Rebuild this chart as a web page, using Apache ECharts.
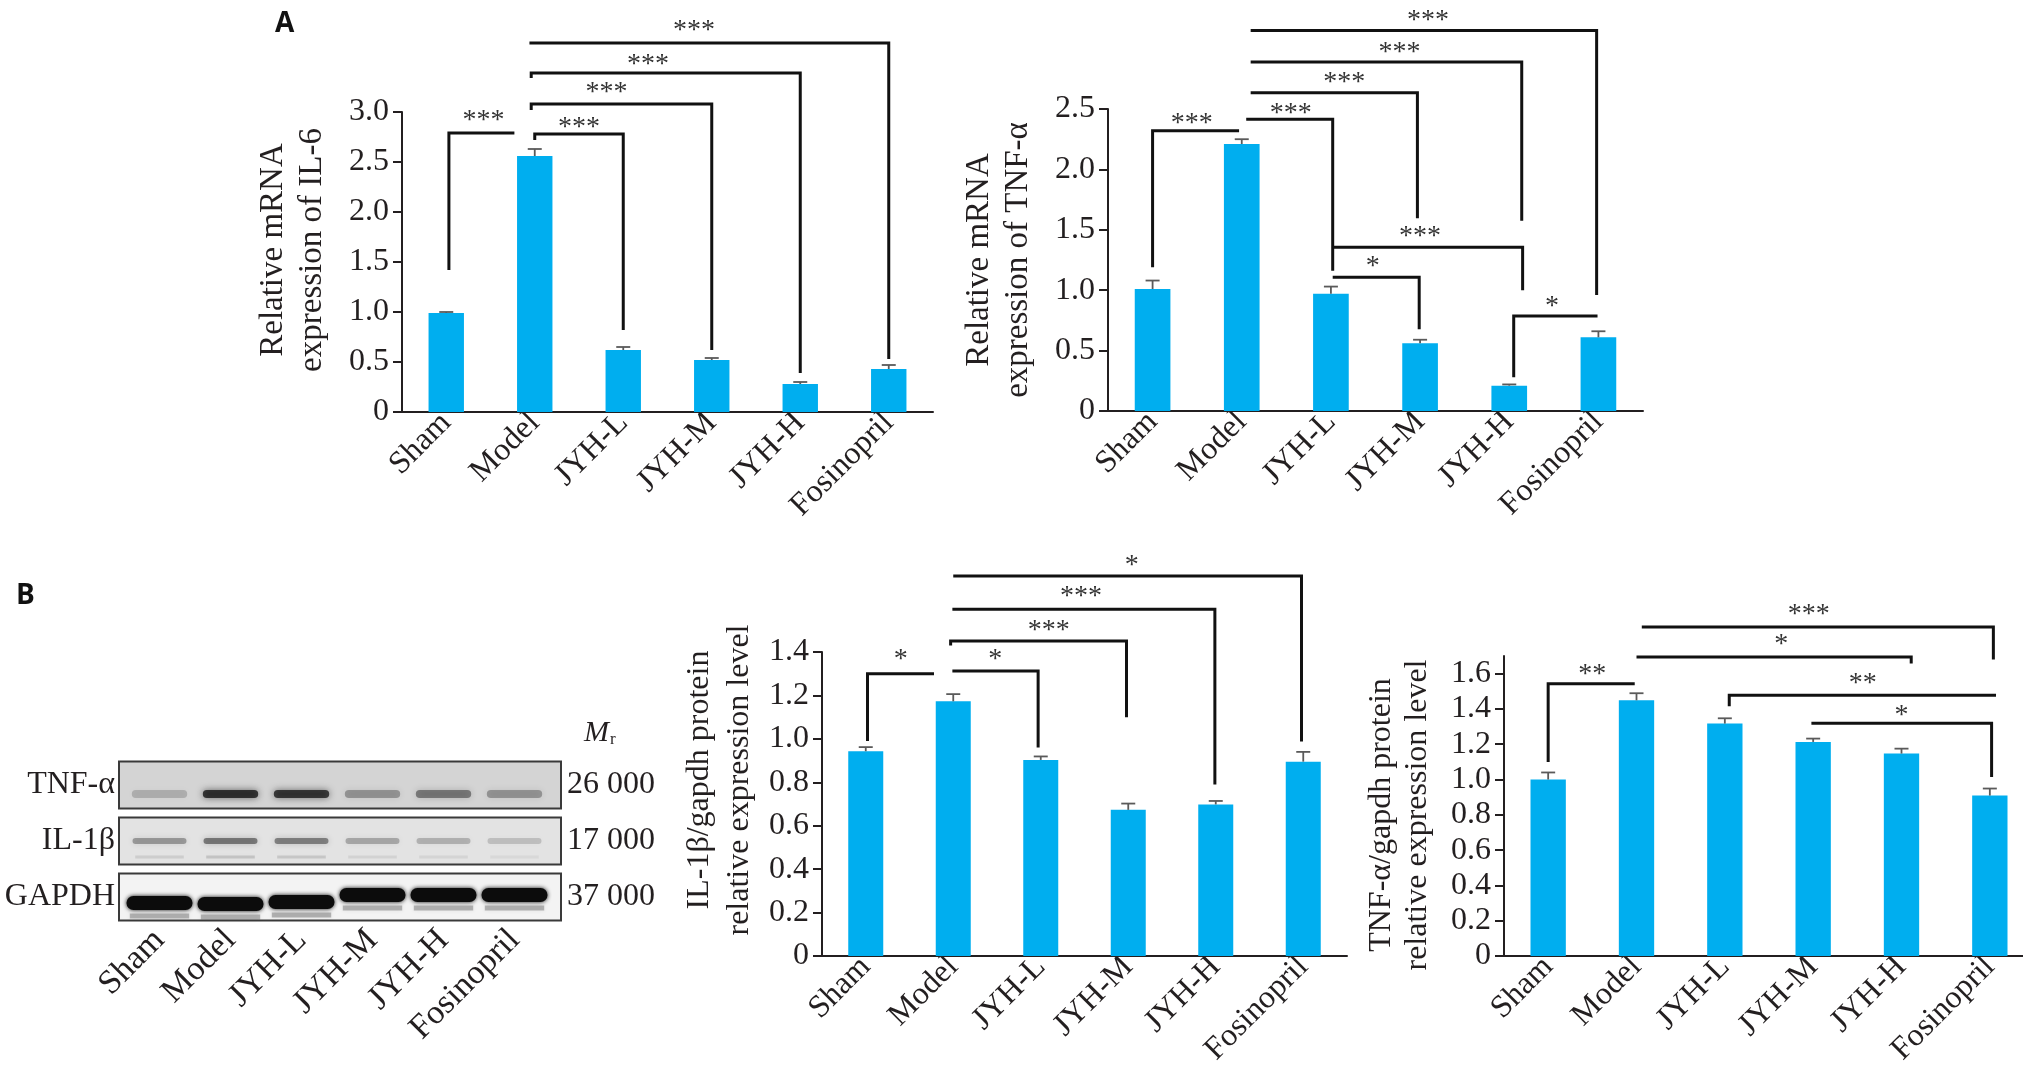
<!DOCTYPE html>
<html>
<head>
<meta charset="utf-8">
<style>
  html, body { margin: 0; padding: 0; background: #fff; }
  #chart { width: 2023px; height: 1080px; }
</style>
<script src="https://cdn.jsdelivr.net/npm/echarts@6.0.0/dist/echarts.min.js"></script>
</head>
<body>
<div id="chart"></div>
<script>
const groups = ['Sham', 'Model', 'JYH-L', 'JYH-M', 'JYH-H', 'Fosinopril']

// A: relative mRNA (mean, SE)
const il6Mean = [0.99, 2.56, 0.62, 0.52, 0.28, 0.43]
const il6Err = [0.01, 0.07, 0.03, 0.02, 0.02, 0.04]
const tnfMrnaMean = [1.01, 2.21, 0.97, 0.56, 0.21, 0.61]
const tnfMrnaErr = [0.07, 0.04, 0.06, 0.03, 0.01, 0.05]

// B: protein / gapdh (mean, SE)
const il1bProtMean = [0.943, 1.173, 0.903, 0.673, 0.698, 0.895]
const il1bProtErr = [0.019, 0.033, 0.016, 0.029, 0.016, 0.045]
const tnfProtMean = [1.0, 1.449, 1.317, 1.213, 1.147, 0.909]
const tnfProtErr = [0.04, 0.04, 0.03, 0.019, 0.028, 0.04]

// y tick labels
const il6Ticks = [0, 0.5, 1.0, 1.5, 2.0, 2.5, 3.0]
const tnfMrnaTicks = [0, 0.5, 1.0, 1.5, 2.0, 2.5]
const il1bTicks = [0, 0.2, 0.4, 0.6, 0.8, 1.0, 1.2, 1.4]
const tnfProtTicks = [0, 0.2, 0.4, 0.6, 0.8, 1.0, 1.2, 1.4, 1.6]

// significance brackets: [x1, y1, level, x2, y2, labelX, labelY, text]
// x in group index units, y in data units
const il6Sig = [
  [0.03, 1.42, 2.79, 0.77, 2.79, 0.42, 2.94, '***'],
  [1.0, 2.72, 2.78, 2.0, 0.82, 1.5, 2.87, '***'],
  [0.96, 3.02, 3.08, 3.0, 0.62, 1.81, 3.22, '***'],
  [0.96, 3.34, 3.39, 4.0, 0.39, 2.28, 3.5, '***'],
  [0.94, 3.69, 3.69, 5.0, 0.53, 2.8, 3.84, '***']
]
const tnfMrnaSig = [
  [0.0, 1.19, 2.32, 0.97, 2.32, 0.44, 2.40, '***'],
  [1.05, 2.415, 2.415, 2.02, 1.16, 1.55, 2.49, '***'],
  [1.1, 2.635, 2.635, 2.97, 1.595, 2.15, 2.745, '***'],
  [1.1, 2.89, 2.89, 4.14, 1.575, 2.77, 2.99, '***'],
  [1.1, 3.15, 3.15, 4.98, 0.96, 3.09, 3.26, '***'],
  [2.02, 1.355, 1.355, 4.15, 1.0, 3.0, 1.47, '***'],
  [2.02, 1.107, 1.107, 2.99, 0.676, 2.47, 1.22, '*'],
  [4.05, 0.28, 0.786, 4.99, 0.786, 4.48, 0.89, '*']
]
const il1bSig = [
  [0.02, 0.99, 1.30, 0.78, 1.30, 0.40, 1.38, '*'],
  [0.99, 1.312, 1.312, 1.97, 0.96, 1.48, 1.38, '*'],
  [0.97, 1.43, 1.451, 2.98, 1.10, 2.09, 1.51, '***'],
  [0.99, 1.597, 1.597, 3.99, 0.79, 2.46, 1.668, '***'],
  [1.0, 1.75, 1.75, 4.98, 0.988, 3.04, 1.81, '*']
]
const tnfProtSig = [
  [0.0, 1.10, 1.543, 0.98, 1.543, 0.50, 1.61, '**'],
  [1.06, 1.864, 1.864, 5.04, 1.68, 2.95, 1.95, '***'],
  [1.0, 1.694, 1.694, 4.11, 1.657, 2.64, 1.78, '*'],
  [2.05, 1.415, 1.477, 5.07, 1.477, 3.56, 1.56, '**'],
  [2.98, 1.319, 1.319, 5.02, 1.015, 4.0, 1.38, '*']
]

// western blot
const blotRows = ['GAPDH', 'IL-1β', 'TNF-α']
const blotMr = ['37 000', '17 000', '26 000']
const gapdhBand = [1, 1, 1, 1, 1, 1]
const il1bBand = [0.32, 0.45, 0.42, 0.26, 0.22, 0.16]
const tnfBand = [0.18, 0.75, 0.72, 0.3, 0.42, 0.3]

const serif = 'Liberation Serif'
const ink = '#231f20'
const barBlue = '#00aeef'

const fmt = (v) => (v === 0 ? '0' : v.toFixed(1))

const catAxis = (gridIndex) => ({
  type: 'category',
  gridIndex,
  data: groups,
  axisLine: { lineStyle: { color: ink, width: 2 } },
  axisTick: { show: false },
  axisLabel: { interval: 0, rotate: 45, margin: 6, fontFamily: serif, fontSize: 32, color: ink }
})

const valAxis = (gridIndex, ticks, name, o) => ({
  type: 'value',
  gridIndex,
  min: 0,
  max: o.max || ticks[ticks.length - 1],
  interval: ticks[1] - ticks[0],
  name,
  nameLocation: 'middle',
  nameRotate: 90,
  nameGap: o.gap,
  nameTextStyle: { fontFamily: serif, fontSize: o.size, lineHeight: o.lh, color: ink, padding: o.pad || 0 },
  axisLine: { show: true, lineStyle: { color: ink, width: 2 } },
  axisTick: { show: true, length: 9, lineStyle: { color: ink, width: 2 }, customValues: ticks },
  axisLabel: { margin: 13, fontFamily: serif, fontSize: 32, color: ink, formatter: fmt, customValues: ticks },
  splitLine: { show: false }
})

const errRender = (params, api) => {
  const base = api.coord([api.value(0), api.value(1)])
  const top = api.coord([api.value(0), api.value(2)])
  const hw = 7
  const st = { stroke: '#5a5a5a', lineWidth: 1.8 }
  return {
    type: 'group',
    children: [
      { type: 'line', shape: { x1: top[0], y1: base[1], x2: top[0], y2: top[1] }, style: st },
      { type: 'line', shape: { x1: top[0] - hw, y1: top[1], x2: top[0] + hw, y2: top[1] }, style: st }
    ]
  }
}

const sigRender = (list) => (params, api) => {
  const [x1, y1, lv, x2, y2, lx, ly, txt] = list[params.dataIndex]
  const pt = (x, y) => {
    const a = api.coord([0, y])
    const b = api.coord([1, y])
    return [a[0] + x * (b[0] - a[0]), a[1]]
  }
  const lp = pt(lx, ly)
  return {
    type: 'group',
    children: [
      {
        type: 'polyline',
        shape: { points: [pt(x1, y1), pt(x1, lv), pt(x2, lv), pt(x2, y2)] },
        style: { stroke: '#111', lineWidth: 3, fill: null }
      },
      {
        type: 'text',
        x: lp[0],
        y: lp[1] + 3,
        style: {
          text: txt, fill: '#333', font: '28px "Liberation Serif"',
          align: 'center', verticalAlign: 'middle', textAlign: 'center', textVerticalAlign: 'middle'
        }
      }
    ]
  }
}

const panel = (i, mean, err, sig) => [
  {
    type: 'bar', xAxisIndex: i, yAxisIndex: i, data: mean, barWidth: '40%',
    itemStyle: { color: barBlue }, z: 2
  },
  {
    type: 'custom', xAxisIndex: i, yAxisIndex: i, z: 3, clip: false,
    data: mean.map((m, k) => [k, m, m + err[k]]),
    renderItem: errRender
  },
  {
    type: 'custom', xAxisIndex: i, yAxisIndex: i, z: 4, clip: false,
    data: sig.map((s) => [0, s[2]]),
    renderItem: sigRender(sig)
  }
]

// blot look (style only)
const boxFill = ['#f3f3f3', '#e3e3e3', '#d4d4d4']
const bandLook = [
  { w: 0.93, h: 14, dy: 3, blur: 4, ghost: { dy: 13, h: 5, a: 0.3 } },
  { w: 0.76, h: 6, dy: 0, blur: 6, ghost: { dy: 16, h: 3, a: 0.35 } },
  { w: 0.78, h: 8, dy: 9, blur: 7 }
]
const gapdhLaneShift = [3, 4, 2, -5, -5, -5]
const bandValues = [gapdhBand, il1bBand, tnfBand]

const boxRender = (params, api) => {
  const row = api.value(1)
  const c = api.coord([0, row])
  const h = api.size([1, 1])[1]
  const cs = params.coordSys
  return {
    type: 'rect',
    shape: { x: cs.x - 5, y: c[1] - h * 0.42, width: cs.width + 16, height: h * 0.84 },
    style: { fill: boxFill[row], stroke: '#3a3a3a', lineWidth: 2 }
  }
}

const bandRender = (params, api) => {
  const lane = api.value(0)
  const row = api.value(1)
  const v = api.value(2)
  const c = api.coord([lane, row])
  const s = api.size([1, 1])
  const st = bandLook[row]
  const w = s[0] * st.w
  const dy = st.dy + (row === 0 ? gapdhLaneShift[lane] : 0)
  const col = `rgba(12,12,12,${v})`
  const kids = [{
    type: 'rect',
    shape: { x: c[0] - w / 2, y: c[1] + dy - st.h / 2, width: w, height: st.h, r: st.h / 2 },
    style: { fill: col, shadowBlur: st.blur, shadowColor: col }
  }]
  if (st.ghost) {
    const g = `rgba(40,40,40,${v * st.ghost.a})`
    kids.push({
      type: 'rect',
      shape: { x: c[0] - w * 0.45, y: c[1] + dy + st.ghost.dy - st.ghost.h / 2, width: w * 0.9, height: st.ghost.h },
      style: { fill: g, shadowBlur: 4, shadowColor: g }
    })
  }
  return { type: 'group', children: kids }
}

const chart = echarts.init(document.getElementById('chart'), null, { renderer: 'canvas' })

chart.setOption({
  animation: false,
  backgroundColor: '#fff',
  textStyle: { fontFamily: serif },
  grid: [
    { left: 402, top: 112, width: 531, height: 300, outerBoundsMode: 'none' },
    { left: 1108, top: 109, width: 535, height: 302, outerBoundsMode: 'none' },
    { left: 822, top: 652, width: 525, height: 304, outerBoundsMode: 'none' },
    { left: 1504, top: 656, width: 530, height: 300, outerBoundsMode: 'none' },
    { left: 124, top: 757, width: 426, height: 168, outerBoundsMode: 'none' }
  ],
  xAxis: [
    catAxis(0), catAxis(1), catAxis(2), catAxis(3),
    {
      type: 'category', gridIndex: 4, data: groups,
      axisLine: { show: false }, axisTick: { show: false },
      axisLabel: { interval: 0, rotate: 45, margin: 10, fontFamily: serif, fontSize: 34, color: ink }
    }
  ],
  yAxis: [
    valAxis(0, il6Ticks, 'Relative mRNA\nexpression of IL-6', { gap: 70, size: 33, lh: 39, pad: [0, 0, 0, 24] }),
    valAxis(1, tnfMrnaTicks, 'Relative mRNA\nexpression of TNF-α', { gap: 70, size: 33, lh: 39 }),
    valAxis(2, il1bTicks, 'IL-1β/gapdh protein\nrelative expression level', { gap: 62, size: 32, lh: 40, pad: [0, 0, 0, 48] }),
    valAxis(3, tnfProtTicks, 'TNF-α/gapdh protein\nrelative expression level', { gap: 68, size: 32, lh: 36, max: 1.7, pad: [0, 18, 0, 0] }),
    {
      type: 'category', gridIndex: 4, data: blotRows,
      axisLine: { show: false }, axisTick: { show: false }, splitLine: { show: false },
      axisLabel: { margin: 9, fontFamily: serif, fontSize: 32, color: ink }
    },
    {
      type: 'category', gridIndex: 4, position: 'right', data: blotMr,
      axisLine: { show: false }, axisTick: { show: false }, splitLine: { show: false },
      axisLabel: { margin: 17, fontFamily: serif, fontSize: 32, color: ink }
    }
  ],
  series: [
    ...panel(0, il6Mean, il6Err, il6Sig),
    ...panel(1, tnfMrnaMean, tnfMrnaErr, tnfMrnaSig),
    ...panel(2, il1bProtMean, il1bProtErr, il1bSig),
    ...panel(3, tnfProtMean, tnfProtErr, tnfProtSig),
    {
      type: 'custom', xAxisIndex: 4, yAxisIndex: 4, z: 1, clip: false,
      data: blotRows.map((r, k) => [0, k]),
      renderItem: boxRender
    },
    {
      type: 'custom', xAxisIndex: 4, yAxisIndex: 4, z: 2, clip: false,
      data: bandValues.flatMap((row, k) => row.map((v, l) => [l, k, v])),
      renderItem: bandRender
    }
  ],
  graphic: [
    {
      type: 'text', left: 275, top: 10,
      style: { text: 'A', font: 'bold 28px "Open Sans"', fill: '#111' }
    },
    {
      type: 'text', left: 16, top: 582,
      style: { text: 'B', font: 'bold 28px "Open Sans"', fill: '#111' }
    },
    {
      type: 'text', left: 584, top: 718,
      style: {
        text: '{m|M}{r|r}',
        rich: {
          m: { fontFamily: serif, fontStyle: 'italic', fontSize: 30, fill: ink, color: ink },
          r: { fontFamily: serif, fontSize: 17, fill: ink, color: ink, verticalAlign: 'bottom', padding: [14, 0, 0, 1] }
        }
      }
    }
  ]
})
</script>
</body>
</html>
